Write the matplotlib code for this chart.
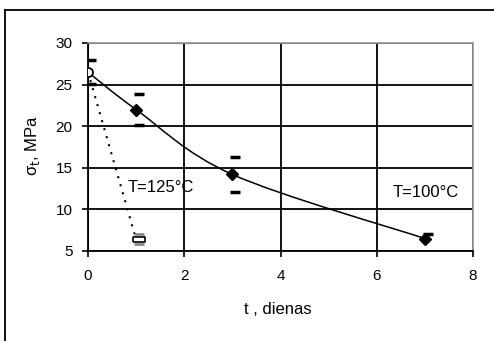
import numpy as np
import matplotlib
matplotlib.use("Agg")
import matplotlib.pyplot as plt
from matplotlib.path import Path
from matplotlib.patches import PathPatch
from matplotlib.lines import Line2D
from matplotlib.transforms import ScaledTranslation

# stiprums laika gaitaa, T=100 C
t_100 = [0, 1, 3, 7]
sig_100 = [26.5, 22.0, 14.2, 6.5]
sig_100_max = [27.9, 23.9, 16.3, 7.1]
sig_100_min = [25.1, 20.1, 12.1, np.nan]

# T=125 C
t_125 = [0, 1]
sig_125 = [26.5, 6.4]
sig_125_max = [np.nan, 7.0]
sig_125_min = [np.nan, 5.8]

x_ticks = [0, 2, 4, 6, 8]
y_ticks = [5, 10, 15, 20, 25, 30]

plt.rcParams['font.family'] = ['Liberation Sans', 'DejaVu Sans']
plt.rcParams['font.size'] = 11

fig = plt.figure(figsize=(4.94, 3.41), dpi=100)
fig.patch.set_facecolor('white')

# ramis ap visu attelu (tikai kreisa un augseja mala redzama)
fig.add_artist(Line2D([5 / 494, 5 / 494], [0, 1 - 10 / 341], transform=fig.transFigure,
                      color='black', lw=1.3))
fig.add_artist(Line2D([5 / 494, 1], [1 - 10 / 341, 1 - 10 / 341], transform=fig.transFigure,
                      color='black', lw=1.3))

ax = fig.add_axes([88 / 494, 1 - 251 / 341, 385 / 494, 208 / 341])
ax.set_xlim(0, 8)
ax.set_ylim(5, 30)
ax.set_xticks(x_ticks)
ax.set_yticks(y_ticks)
ax.grid(True, color='black', lw=1.3)
ax.set_axisbelow(True)
for side in ['top', 'right']:
    ax.spines[side].set_color('#999999')
    ax.spines[side].set_linewidth(1.2)
for side in ['left', 'bottom']:
    ax.spines[side].set_color('black')
    ax.spines[side].set_linewidth(1.3)
ax.tick_params(axis='x', length=4, width=1.2, pad=9)
ax.tick_params(axis='y', length=4, width=1.2, pad=7)

# gluda likne (Bezier starp punktiem)
pts = np.column_stack([t_100, sig_100])
ext = np.vstack([pts[0], pts, pts[-1]])
verts = [pts[0]]
codes = [Path.MOVETO]
for i in range(len(pts) - 1):
    p0, p1, p2, p3 = ext[i], ext[i + 1], ext[i + 2], ext[i + 3]
    verts += [p1 + (p2 - p0) / 6, p2 - (p3 - p1) / 6, p2]
    codes += [Path.CURVE4] * 3
ax.add_patch(PathPatch(Path(verts, codes), fill=False, color='black', lw=1.1))

ax.plot(t_100[1:], sig_100[1:], 'D', color='black', ms=6.5, zorder=4)
ax.plot(t_100[:1], sig_100[:1], 'o', mfc='white', mec='black', mew=1.3, ms=6.5, zorder=5)

ax.plot(t_125, sig_125, color='black', lw=1.5, ls=(0, (1, 3)))
rect = [(-1, -0.45), (1, -0.45), (1, 0.45), (-1, 0.45), (-1, -0.45)]
off = ax.transData + ScaledTranslation(3 / 100, 0, fig.dpi_scale_trans)

# izkliede (max/min)
ax.plot(t_100, sig_100_max, '_', color='black', ms=7, mew=2.5, transform=off, zorder=5)
ax.plot(t_100, sig_100_min, '_', color='black', ms=7, mew=2.5, transform=off, zorder=5)
ax.plot(t_125, sig_125_max, '_', color='#888888', ms=7, mew=2, transform=off, zorder=4)
ax.plot(t_125, sig_125_min, '_', color='#888888', ms=7, mew=2, transform=off, zorder=4)
ax.plot(t_125[1:], sig_125[1:], marker=rect, mfc='white', mec='black', mew=1.2, ms=8,
        ls='none', transform=off, zorder=5)

ax.text(0.83, 12.6, 'T=125°C', ha='left', va='center', fontsize=12)
ax.text(6.32, 12.0, 'T=100°C', ha='left', va='center', fontsize=12)

ax.set_xlabel('t , dienas', fontsize=12)
ax.set_ylabel('σ$_\\mathrm{t}$, MPa', fontsize=12)
ax.xaxis.set_label_coords((278 - 88) / 385, (251 - 310) / 208)
ax.yaxis.set_label_coords((33 - 88) / 385, (251 - 145) / 208)
ax.xaxis.label.set_va('center')
ax.yaxis.label.set_va('center')

fig.savefig('out.png', dpi=100)
